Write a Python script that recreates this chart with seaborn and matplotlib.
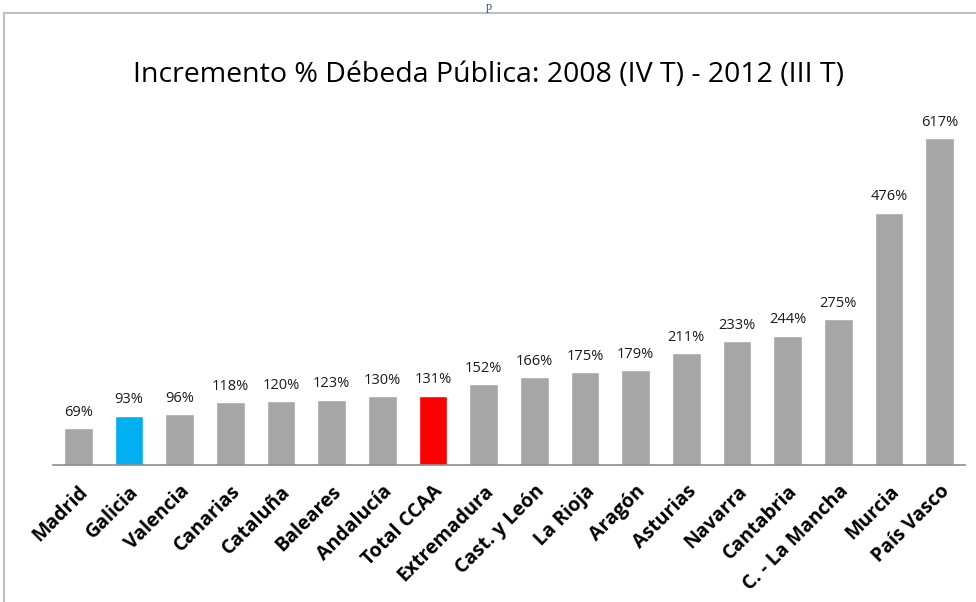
#!/usr/bin/env python3

import pandas as pd
import seaborn as sns
import matplotlib.pyplot as plt
from matplotlib.patches import Rectangle

regions = [
    "Madrid", "Galicia", "Valencia", "Canarias", "Cataluña", "Baleares",
    "Andalucía", "Total CCAA", "Extremadura", "Cast. y León", "La Rioja",
    "Aragón", "Asturias", "Navarra", "Cantabria", "C. - La Mancha",
    "Murcia", "País Vasco",
]
increase = [69, 93, 96, 118, 120, 123, 130, 131, 152, 166, 175, 179,
            211, 233, 244, 275, 476, 617]

GRAY = "#A6A6A6"
highlight = {"Galicia": "#00B0F0", "Total CCAA": "#FF0000"}
palette = {r: highlight.get(r, GRAY) for r in regions}

df = pd.DataFrame({"region": regions, "value": increase})

sns.set_style("white")
plt.rcParams["font.family"] = ["Open Sans", "DejaVu Sans"]

fig = plt.figure(figsize=(9.76, 6.02), dpi=100)
ax = fig.add_axes([53 / 976, 0.2276, 912 / 976, 0.6163])

sns.barplot(df, x="region", y="value", hue="region", palette=palette,
            order=regions, hue_order=regions, width=0.57, legend=False,
            saturation=1, ax=ax)

for cont in ax.containers:
    ax.bar_label(cont, labels=["{}%".format(int(v.get_height())) for v in cont],
                 padding=6, fontsize=10.5, color="#1A1A1A")

ax.set_ylim(0, 700)
ax.set_xlim(-0.5, len(regions) - 0.5)
ax.set_xlabel("")
ax.set_ylabel("")
ax.set_yticks([])
for side in ["top", "right", "left"]:
    ax.spines[side].set_visible(False)
ax.spines["bottom"].set_color("#8C8C8C")
ax.spines["bottom"].set_linewidth(1.2)

ax.set_xticks(range(len(regions)))
ax.set_xticklabels(regions, rotation=45, ha="right", rotation_mode="anchor",
                   fontsize=14, fontweight="bold", color="black")
ax.tick_params(axis="x", which="major", length=0, pad=12)
ax.set_xticks([i - 0.5 for i in range(len(regions) + 1)], minor=True)
ax.tick_params(axis="x", which="minor", length=6, color="#8C8C8C", width=1.2)

fig.text(0.501, 0.875, "Incremento % Débeda Pública: 2008 (IV T) - 2012 (III T)",
         ha="center", va="center", fontsize=20.5, color="black")

# chart frame and the caption fragment above it
fig.patches.append(Rectangle((4 / 976, -0.01), 1.0, 1 - 13 / 602 + 0.01,
                             transform=fig.transFigure, fill=False,
                             edgecolor="#BFBFBF", linewidth=1.5))
fig.text(489 / 976, 0.999, "p", ha="center", va="top", fontsize=9,
         color="#2E5597", family="Liberation Serif")

plt.savefig("out.png", dpi=100)
